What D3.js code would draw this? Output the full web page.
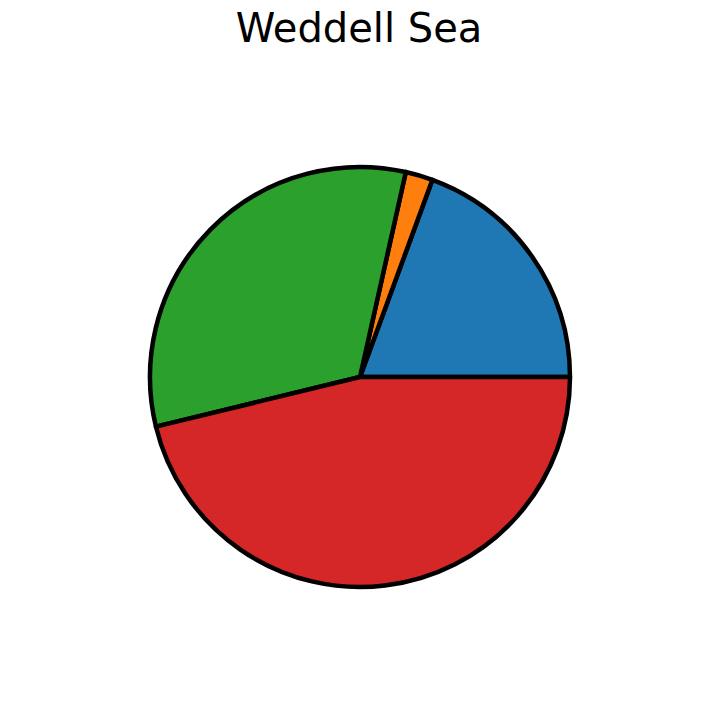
<!DOCTYPE html>
<html><head><meta charset="utf-8">
<script src="https://cdn.jsdelivr.net/npm/d3@7"></script>
<style>body{margin:0;background:#fff}</style>
</head><body>
<script>
const categories = ["A", "B", "C", "D"];
const values = [19.4, 2.1, 32.3, 46.2];
const colors = ["#1f77b4", "#ff7f0e", "#2ca02c", "#d62728"];
const title = "Weddell Sea";

const W = 720, H = 720, cx = 360, cy = 377, R = 210;
const svg = d3.select("body").append("svg").attr("width", W).attr("height", H);
svg.append("text").attr("x", 359).attr("y", 42).attr("text-anchor", "middle")
  .attr("font-family", "DejaVu Sans").attr("font-size", 40).text(title);

const data = categories.map((c, i) => ({c, v: values[i], col: colors[i]}));
const pie = d3.pie().value(d => d.v).sort(null).startAngle(Math.PI / 2).endAngle(Math.PI / 2 - 2 * Math.PI);
const arc = d3.arc().innerRadius(0).outerRadius(R);
svg.append("g").attr("transform", `translate(${cx},${cy})`)
  .selectAll("path").data(pie(data)).join("path")
  .attr("d", arc).attr("fill", d => d.data.col)
  .attr("stroke", "#000").attr("stroke-width", 4.5).attr("stroke-linejoin", "round");
</script>
</body></html>
